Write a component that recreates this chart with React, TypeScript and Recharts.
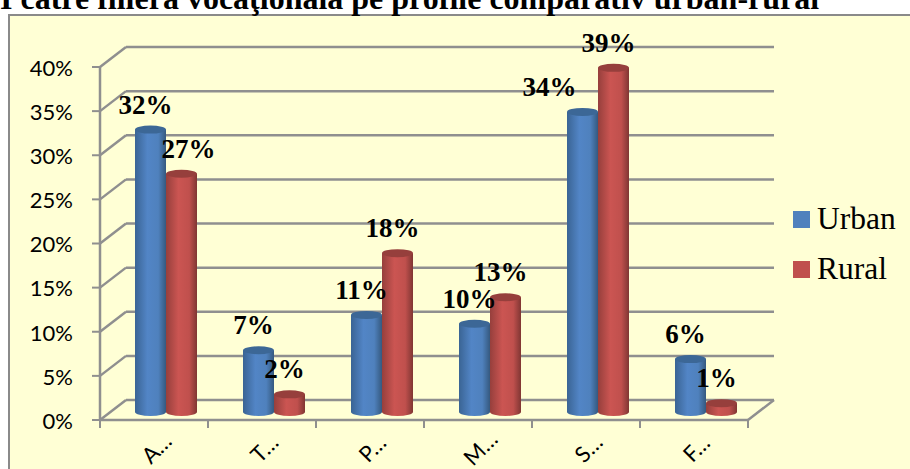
import { BarChart, Bar, XAxis, YAxis, CartesianGrid, Legend, LabelList } from 'recharts';

const categories = ['A…', 'T…', 'P…', 'M…', 'S…', 'F…'];
const urban = [32, 7, 11, 10, 34, 6];
const rural = [27, 2, 18, 13, 39, 1];
const yTicks = [0, 5, 10, 15, 20, 25, 30, 35, 40];

const chartData = categories.map((name, i) => ({ name, urban: urban[i], rural: rural[i] }));

const W = 910;
const H = 469;
const GRID = '#8f8f8f';
// depth of the fake 3d box
const DEPTH_X = 26;
const DEPTH_Y = 20;
const BAND = 108;
// bars stand in the middle of the floor
const BAR_DX = 12;
const BAR_DY = -8;
const RY = 4;

const Cylinder = ({ x, y, width, height, dataKey }: any) => {
  const left = x + BAR_DX;
  const top = y + BAR_DY;
  const rx = width / 2;
  const cx = left + rx;
  const bottom = top + height;
  const isUrban = dataKey === 'urban';
  return (
    <g>
      <path
        d={`M${left},${top} L${left},${bottom} A${rx},${RY} 0 0 0 ${left + width},${bottom} L${left + width},${top} Z`}
        fill={`url(#${isUrban ? 'cylUrban' : 'cylRural'})`}
      />
      <ellipse cx={cx} cy={top} rx={rx} ry={RY} fill={isUrban ? '#3c6796' : '#963f3c'} />
    </g>
  );
};

// labels that were dragged away from their bars in the original
const labelShift: Record<string, Record<number, number>> = { urban: { 4: -28 }, rural: { 0: 12 } };

const DataLabel = ({ x, y, width, value, index, seriesKey }: any) => {
  const shift = labelShift[seriesKey]?.[index] ?? 0;
  return (
    <text
      x={x + BAR_DX + width / 2 - 5 + shift}
      y={y + BAR_DY - 16}
      textAnchor="middle"
      fontFamily="Liberation Serif"
      fontWeight="bold"
      fontSize={27}
      fill="#000"
    >
      {value}%
    </text>
  );
};

const GridLine = ({ x1, y1, x2, y2 }: any) => {
  const isFloor = y1 > 415;
  return (
    <g stroke={GRID} strokeWidth={2.5} fill="none">
      <line x1={x1} y1={y1} x2={x1 + DEPTH_X} y2={y1 - DEPTH_Y} />
      <line x1={x1 + DEPTH_X} y1={y1 - DEPTH_Y} x2={x2 + DEPTH_X} y2={y2 - DEPTH_Y} />
      {isFloor && <line x1={x2} y1={y2} x2={x2 + DEPTH_X} y2={y2 - DEPTH_Y} />}
    </g>
  );
};

const CategoryTick = ({ x, y, payload, index }: any) => (
  <g>
    <line x1={x - BAND / 2} y1={y - 8} x2={x - BAND / 2} y2={y} stroke={GRID} strokeWidth={2} />
    {index === categories.length - 1 && (
      <line x1={x + BAND / 2} y1={y - 8} x2={x + BAND / 2} y2={y} stroke={GRID} strokeWidth={2} />
    )}
    <text
      x={x + 8}
      y={y + 26}
      transform={`rotate(-45 ${x + 8} ${y + 26})`}
      textAnchor="middle"
      fontFamily="Lato"
      fontSize={22}
      fill="#000"
    >
      {payload.value}
    </text>
  </g>
);

const LegendBox = ({ payload }: any) => (
  <div style={{ width: 117 }}>
    {payload.map((p: any) => (
      <div key={p.value} style={{ display: 'flex', alignItems: 'center', height: 50 }}>
        <span style={{ width: 17, height: 17, background: p.color, marginRight: 7 }} />
        <span style={{ fontFamily: 'Liberation Serif', fontSize: 31.5, color: '#000' }}>{p.value}</span>
      </div>
    ))}
  </div>
);

export default function App() {
  return (
    <div style={{ position: 'absolute', left: 0, top: 0, width: W, height: H, overflow: 'hidden', background: '#fff' }}>
      <div
        style={{
          position: 'absolute', left: 8, top: 14, width: 960, height: 500,
          background: '#ffffd5', border: '2px solid #8a8a8a', boxSizing: 'border-box',
        }}
      />
      <div
        style={{
          position: 'absolute', left: 0, top: -18, whiteSpace: 'nowrap',
          fontFamily: 'Liberation Serif', fontWeight: 'bold', fontSize: 32, lineHeight: '32px', color: '#000',
        }}
      >
        I către filiera vocaţională pe profile comparativ urban-rural
      </div>
      <div style={{ position: 'absolute', left: 0, top: 0 }}>
        <BarChart
          width={W}
          height={H}
          data={chartData}
          margin={{ top: 67, right: 45, bottom: 0, left: 0 }}
          barGap={0}
          barCategoryGap={23}
        >
          <defs>
            <linearGradient id="cylUrban" x1="0" y1="0" x2="1" y2="0">
              <stop offset="0" stopColor="#3a6494" />
              <stop offset="0.4" stopColor="#5285c6" />
              <stop offset="0.75" stopColor="#4f81bd" />
              <stop offset="1" stopColor="#35597f" />
            </linearGradient>
            <linearGradient id="cylRural" x1="0" y1="0" x2="1" y2="0">
              <stop offset="0" stopColor="#963f3c" />
              <stop offset="0.4" stopColor="#cb5552" />
              <stop offset="0.75" stopColor="#c0504d" />
              <stop offset="1" stopColor="#803633" />
            </linearGradient>
          </defs>
          <CartesianGrid vertical={false} horizontal={(p: any) => <GridLine key={p.key ?? p.index} {...p} />} />
          <XAxis
            dataKey="name"
            interval={0}
            height={49}
            axisLine={{ stroke: GRID, strokeWidth: 2.5 }}
            tickLine={false}
            tick={<CategoryTick />}
          />
          <YAxis
            domain={[0, 40]}
            ticks={yTicks}
            width={100}
            tickFormatter={(v: number) => `${v}%`}
            axisLine={{ stroke: GRID, strokeWidth: 2.5 }}
            tickLine={{ stroke: GRID, strokeWidth: 2 }}
            tickSize={8}
            tickMargin={19}
            tick={{ fill: '#000', fontSize: 22, fontFamily: 'Lato', dy: 1 }}
          />
          <Legend
            layout="vertical"
            verticalAlign="top"
            align="right"
            itemSorter={null}
            wrapperStyle={{ position: 'absolute', left: 793, top: 194, width: 117 }}
            content={<LegendBox />}
          />
          <Bar dataKey="urban" name="Urban" fill="#4f81bd" isAnimationActive={false} shape={<Cylinder dataKey="urban" />}>
            <LabelList dataKey="urban" content={<DataLabel seriesKey="urban" />} />
          </Bar>
          <Bar dataKey="rural" name="Rural" fill="#c0504d" isAnimationActive={false} shape={<Cylinder dataKey="rural" />}>
            <LabelList dataKey="rural" content={<DataLabel seriesKey="rural" />} />
          </Bar>
        </BarChart>
      </div>
    </div>
  );
}
